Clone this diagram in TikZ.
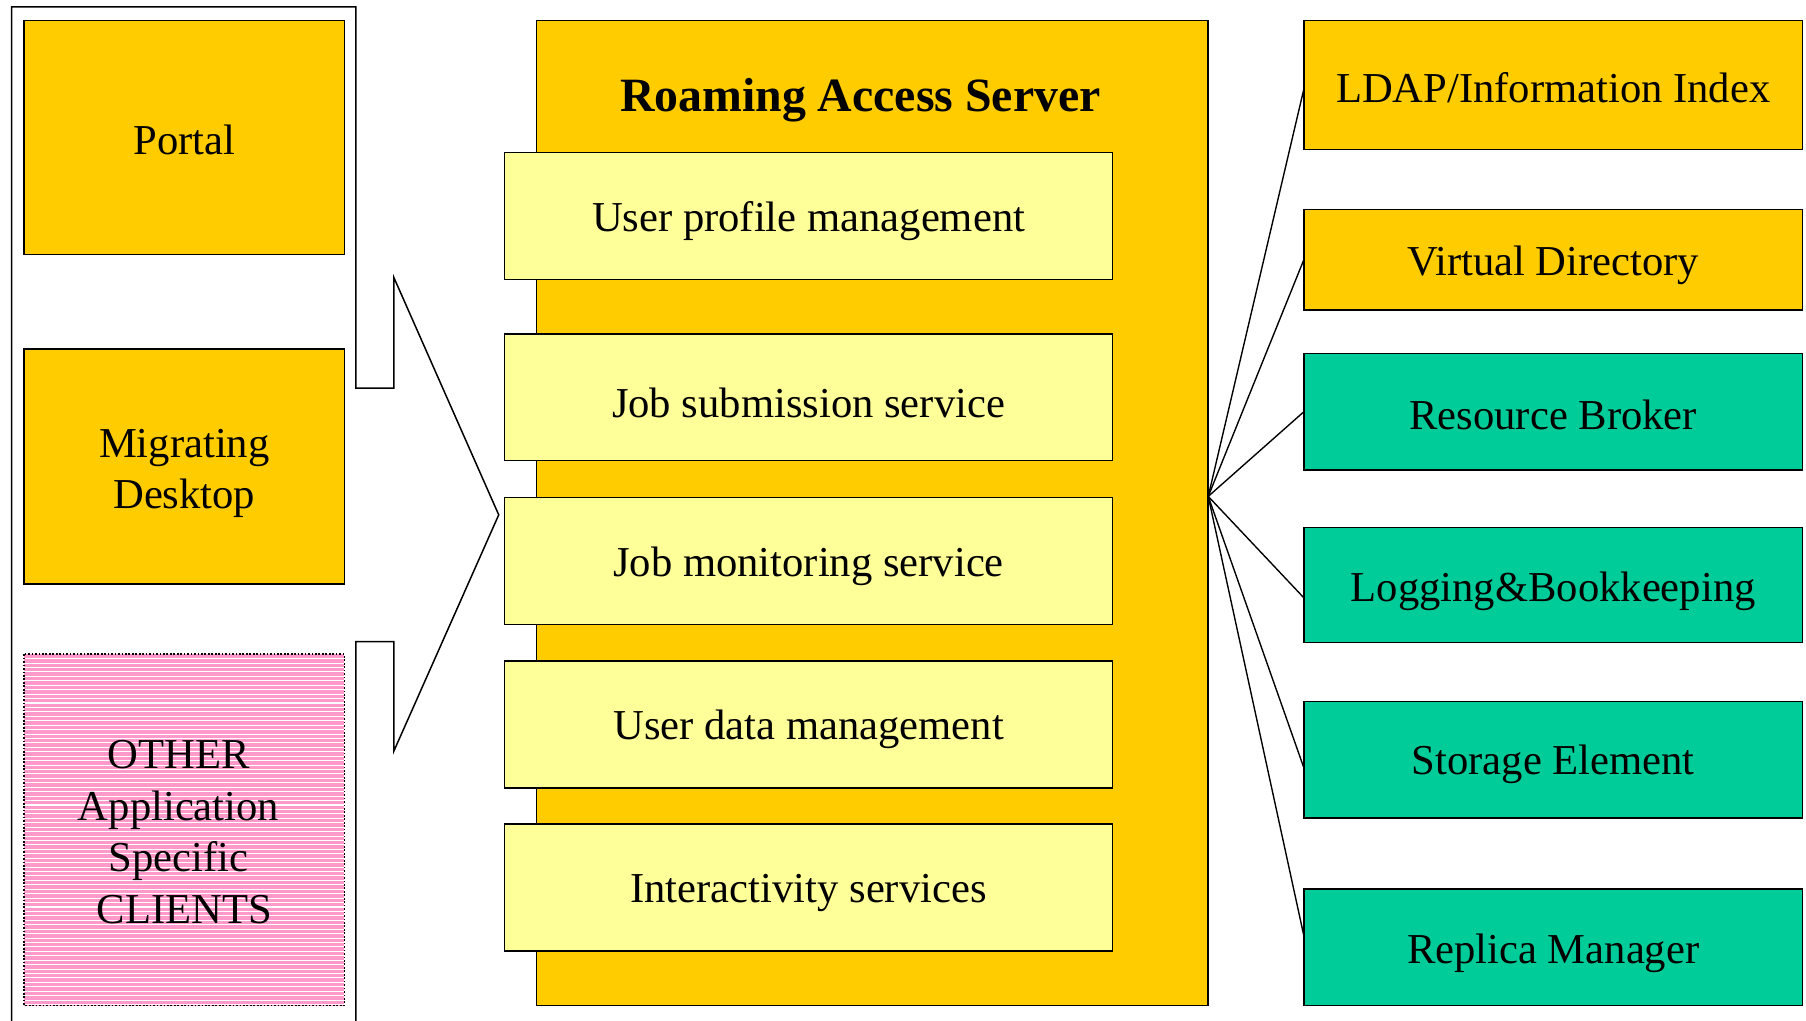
\documentclass[tikz,border=0pt]{standalone}
\usepackage{fontspec}
\setmainfont{Liberation Serif}
\usetikzlibrary{calc}
\definecolor{amber}{HTML}{FFCC00}
\definecolor{paleyellow}{HTML}{FFFF99}
\definecolor{seagreen}{HTML}{00CC99}
\definecolor{rose}{HTML}{FF99CC}

\begin{document}
\begin{tikzpicture}[x=1pt,y=-1pt,
  box/.style={rectangle, draw=black, line width=1.3pt, inner sep=0pt, outer sep=0pt},
  txt/.style={align=center, inner sep=0pt, font=\fontsize{37}{45}\selectfont, yshift=#1},
  txt/.default=-4.5pt,
  clientbox/.style={box, fill=amber, minimum width=278pt},
  svcbox/.style={box, fill=paleyellow, minimum width=528pt, minimum height=110pt},
  extbox/.style={box, minimum width=433pt},
  wire/.style={draw=black, line width=1.2pt},
  frameline/.style={draw=black, line width=1.3pt, line join=miter}]

\useasboundingbox (0,0) rectangle (1568,886);

% client side
\node[clientbox, minimum height=203pt, label={[txt=-2pt]center:Portal}] (portal) at (160,119.5) {};
\node[clientbox, minimum height=204pt, label={[txt=-6pt]center:Migrating\\Desktop}] (desktop) at (160,405) {};
\node[box, draw=none, fill=rose, minimum width=278pt, minimum height=305pt,
  path picture={
    \foreach \i in {1,...,80}
      \draw[white, line width=0.9pt]
        ([yshift=-\i*3.85pt]path picture bounding box.north west) --
        ([yshift=-\i*3.85pt]path picture bounding box.north east);
  },
  label={[txt=-2pt]center:OTHER\kern10pt\\Application\kern10pt\\Specific\kern10pt\\CLIENTS}]
  (other) at (160,720.5) {};
\draw[black, line width=1.3pt, dash pattern=on 1.5pt off 1.5pt]
  (other.north west) rectangle (other.south east);

% bracket with pointer towards the server
\draw[frameline] (10,892) -- (10,6) -- (309,6) -- (309,337) -- (342,337) -- (342,241)
  -- (433,447) -- (342,652) -- (342,557) -- (309,557) -- (309,892);

% server with its services
\node[box, fill=amber, minimum width=583pt, minimum height=855pt] (ras) at (757.5,445.5) {};
\node[font=\fontsize{41.5}{48}\selectfont\bfseries, inner sep=0pt] (title) at (747,87) {Roaming Access Server};
\node[svcbox, label={[txt]center:User profile management}] (upm) at (702,187.5) {};
\node[svcbox, label={[txt]center:Job submission service}] (jss) at (702,345) {};
\node[svcbox, label={[txt]center:Job monitoring service}] (jms) at (702,487) {};
\node[svcbox, label={[txt]center:User data management}] (udm) at (702,629) {};
\node[svcbox, label={[txt]center:Interactivity services}] (ias) at (702,770.5) {};

% external services
\node[extbox, fill=amber, minimum height=112pt, label={[txt=-2.5pt]center:LDAP/Information Index}] (ldap) at (1348.5,74) {};
\node[extbox, fill=amber, minimum height=87pt, label={[txt]center:Virtual Directory}] (vdir) at (1348.5,225.5) {};
\node[extbox, fill=seagreen, minimum height=101pt, label={[txt=-2.5pt]center:Resource Broker}] (rb) at (1348.5,357.5) {};
\node[extbox, fill=seagreen, minimum height=100pt, label={[txt=-5.5pt]center:Logging\&Bookkeeping}] (lb) at (1348.5,508) {};
\node[extbox, fill=seagreen, minimum height=101pt, label={[txt=-4pt]center:Storage Element}] (se) at (1348.5,659.5) {};
\node[extbox, fill=seagreen, minimum height=101pt, label={[txt=-5.5pt]center:Replica Manager}] (rm) at (1348.5,822.5) {};

% fan of connectors from the server edge
\coordinate (hub) at ($(ras.north east)!0.483!(ras.south east)$);
\draw[wire] (hub) -- ($(ldap.north west)!0.53!(ldap.south west)$);
\draw[wire] (hub) -- ($(vdir.north west)!0.5!(vdir.south west)$);
\draw[wire] (hub) -- ($(rb.north west)!0.5!(rb.south west)$);
\draw[wire] (hub) -- ($(lb.north west)!0.61!(lb.south west)$);
\draw[wire] (hub) -- ($(se.north west)!0.57!(se.south west)$);
\draw[wire] (hub) -- ($(rm.north west)!0.40!(rm.south west)$);
\end{tikzpicture}
\end{document}
